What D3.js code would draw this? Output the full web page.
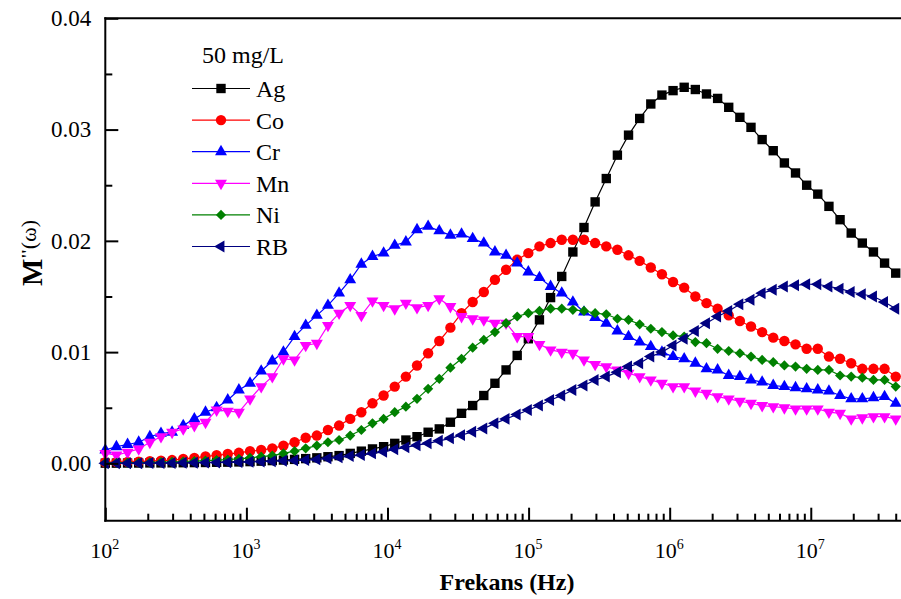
<!DOCTYPE html>
<html>
<head>
<meta charset="utf-8">
<script src="https://cdn.jsdelivr.net/npm/d3@7"></script>
<style>
  html, body { margin: 0; padding: 0; background: #fff; }
  svg { display: block; }
  text { font-family: "Liberation Serif", "Times New Roman", serif; fill: #000; }
</style>
</head>
<body>
<svg id="chart" width="901" height="599"></svg>
<script>
// ---------- DATA ----------
const frequency = [100, 119.9, 143.8, 172.5, 206.9, 248.1, 297.4, 356.7, 427.8, 513.1,
  615.2, 737.8, 884.8, 1061, 1273, 1526, 1830, 2195, 2632, 3157,
  3784, 4539, 5443, 6527, 7827, 9387, 11256, 13500, 16190, 19410,
  23280, 27920, 33480, 40150, 48150, 57740, 69240, 83040, 99590, 119400,
  143200, 171800, 206000, 247000, 296200, 355300, 426000, 510900, 612700, 734800,
  881000, 1056600, 1267000, 1520000, 1823000, 2186000, 2621000, 3144000, 3770000, 4521000,
  5420000, 6500000, 7796000, 9349000, 11210000, 13450000, 16130000, 19340000, 23190000, 27810000,
  33340000, 40000000];

const Ag = [0.00002, 0.00002, 0.00003, 0.00003, 0.00004, 0.00004, 0.00005, 0.00006, 0.00007, 0.00008,
  0.0001, 0.00011, 0.00013, 0.00016, 0.0002, 0.00025, 0.0003, 0.00036, 0.00043, 0.0005,
  0.0006, 0.0007, 0.0009, 0.0011, 0.0013, 0.0015, 0.0018, 0.0021, 0.0024, 0.0028,
  0.0031, 0.0037, 0.0045, 0.0052, 0.0061, 0.0072, 0.0084, 0.0097, 0.0112, 0.0129,
  0.0149, 0.0168, 0.0190, 0.0212, 0.0235, 0.0256, 0.0277, 0.0295, 0.0310, 0.0323,
  0.0331, 0.0335, 0.0338, 0.0336, 0.0332, 0.0328, 0.0320, 0.0311, 0.0302, 0.0291,
  0.0281, 0.0270, 0.0261, 0.0250, 0.0242, 0.0231, 0.0219, 0.0207, 0.0198, 0.0190,
  0.0180, 0.0171];

const Co = [0.0001, 0.00012, 0.00014, 0.00016, 0.0002, 0.00025, 0.0003, 0.0004, 0.0005, 0.00062,
  0.00073, 0.00084, 0.00095, 0.0011, 0.0012, 0.00135, 0.0016, 0.0019, 0.0023, 0.0025,
  0.0030, 0.0034, 0.0040, 0.0046, 0.0054, 0.0061, 0.0069, 0.0078, 0.0088, 0.0099,
  0.0110, 0.0122, 0.0135, 0.0145, 0.0154, 0.0165, 0.0174, 0.0183, 0.0189, 0.0195,
  0.0198, 0.0201, 0.0201, 0.0201, 0.0198, 0.0195, 0.0192, 0.0187, 0.0182, 0.0176,
  0.0170, 0.0163, 0.0158, 0.0150, 0.0144, 0.0139, 0.0133, 0.0128, 0.0123, 0.0118,
  0.0113, 0.0110, 0.0107, 0.0103, 0.0103, 0.0096, 0.0094, 0.0090, 0.0085, 0.0085,
  0.0085, 0.0078];

const Cr = [0.0012, 0.0015, 0.0017, 0.0019, 0.0024, 0.0027, 0.0028, 0.0034, 0.0040, 0.0046,
  0.0050, 0.0057, 0.0066, 0.0072, 0.0083, 0.0092, 0.0100, 0.0114, 0.0124, 0.0133,
  0.0142, 0.0153, 0.0165, 0.0179, 0.0186, 0.0189, 0.0196, 0.0199, 0.0210, 0.0213,
  0.0209, 0.0205, 0.0206, 0.0202, 0.0198, 0.0190, 0.0187, 0.0180, 0.0172, 0.0167,
  0.0159, 0.0153, 0.0145, 0.0136, 0.0131, 0.0126, 0.0119, 0.0114, 0.0109, 0.0105,
  0.0100, 0.0096, 0.0094, 0.0090, 0.0085, 0.0084, 0.0079, 0.0078, 0.0075, 0.0073,
  0.0070, 0.0069, 0.0068, 0.0067, 0.0066, 0.0065, 0.0061, 0.0058, 0.0058, 0.0059,
  0.0060, 0.0054];

const Mn = [0.0009, 0.00075, 0.0010, 0.0013, 0.0019, 0.0024, 0.0028, 0.0031, 0.0034, 0.0037,
  0.0048, 0.0047, 0.0046, 0.0058, 0.0069, 0.0078, 0.0094, 0.0093, 0.0106, 0.0108,
  0.0124, 0.0135, 0.0142, 0.0133, 0.0146, 0.0142, 0.0139, 0.0144, 0.0140, 0.0142,
  0.0148, 0.0141, 0.0132, 0.0130, 0.0129, 0.0126, 0.0126, 0.0114, 0.0114, 0.0107,
  0.0102, 0.0100, 0.0099, 0.0093, 0.0089, 0.0087, 0.0084, 0.0081, 0.0078, 0.0075,
  0.0072, 0.0069, 0.0069, 0.0065, 0.0063, 0.0060, 0.0058, 0.0056, 0.0054, 0.0052,
  0.0051, 0.0050, 0.0049, 0.0049, 0.0049, 0.0046, 0.0045, 0.0040, 0.0041, 0.0042,
  0.0042, 0.0040];

const Ni = [0.00005, 0.00006, 0.00007, 0.00008, 0.0001, 0.00012, 0.00014, 0.00017, 0.0002, 0.00025,
  0.0003, 0.00035, 0.0004, 0.0005, 0.0006, 0.0007, 0.0009, 0.0011, 0.00135, 0.0016,
  0.0019, 0.0021, 0.0025, 0.0030, 0.0036, 0.0040, 0.0046, 0.0051, 0.0058, 0.0067,
  0.0076, 0.0086, 0.0094, 0.0104, 0.0111, 0.0118, 0.0126, 0.0132, 0.0135, 0.0137,
  0.0139, 0.0139, 0.0138, 0.0137, 0.0135, 0.0134, 0.0130, 0.0129, 0.0125, 0.0121,
  0.0118, 0.0115, 0.0114, 0.0109, 0.0108, 0.0103, 0.0101, 0.0099, 0.0096, 0.0093,
  0.0091, 0.0088, 0.0087, 0.0085, 0.0084, 0.0084, 0.0079, 0.0078, 0.0077, 0.0075,
  0.0075, 0.0069];

const RB = [0.00001, 0.00001, 0.00002, 0.00002, 0.00003, 0.00003, 0.00004, 0.00005, 0.00006, 0.00007,
  0.00008, 0.0001, 0.00012, 0.00014, 0.00016, 0.0002, 0.00023, 0.00027, 0.0003, 0.00036,
  0.00045, 0.00054, 0.00066, 0.00075, 0.0009, 0.00104, 0.00126, 0.00144, 0.00164, 0.0018,
  0.00203, 0.00225, 0.00254, 0.00284, 0.00314, 0.0036, 0.0040, 0.0044, 0.0048, 0.0052,
  0.0057, 0.0061, 0.0066, 0.0070, 0.0075, 0.0078, 0.0082, 0.0087, 0.0090, 0.0096,
  0.0100, 0.0106, 0.0112, 0.0119, 0.0126, 0.0132, 0.0137, 0.0143, 0.0147, 0.0153,
  0.0156, 0.0159, 0.0160, 0.0161, 0.0161, 0.0159, 0.0157, 0.0154, 0.0152, 0.0150,
  0.0145, 0.0139];

const seriesNames = ["Ag", "Co", "Cr", "Mn", "Ni", "RB"];
const seriesValues = [Ag, Co, Cr, Mn, Ni, RB];
const legendTitle = "50 mg/L";
const xTickValues = [1e2, 1e3, 1e4, 1e5, 1e6, 1e7];
const xTickExponents = ["2", "3", "4", "5", "6", "7"];
const yTickValues = [0, 0.01, 0.02, 0.03, 0.04];
const yMinorTickValues = [0.005, 0.015, 0.025, 0.035];
const xTitle = "Frekans (Hz)";

(function () {
// ---------- STYLE ----------
const colors = {Ag: "#000000", Co: "#ff0000", Cr: "#0000ff", Mn: "#ff00ff", Ni: "#008000", RB: "#000080"};
const markers = {
  Ag: {type: d3.symbolSquare, size: 88, rot: 0},
  Co: {type: d3.symbolCircle, size: 85, rot: 0},
  Cr: {type: d3.symbolTriangle, size: 62, rot: 0},
  Mn: {type: d3.symbolTriangle, size: 62, rot: 180},
  Ni: {type: d3.symbolSquare, size: 52, rot: 45},
  RB: {type: d3.symbolTriangle, size: 62, rot: -90}
};

// ---------- SCALES ----------
const pL = 105.3, pR = 909.4, pT = 18.3, pB = 520.7;
const x = d3.scaleLog().domain([1e2, 5e7]).range([pL, pR]);
const y = d3.scaleLinear().domain([-0.00515, 0.04]).range([pB, pT]);

const svg = d3.select("#chart");

// ---------- SERIES ----------
const line = d3.line().x(d => x(d[0])).y(d => y(d[1]));
seriesNames.forEach((name, i) => {
  const pts = frequency.map((f, k) => [f, seriesValues[i][k]]);
  const g = svg.append("g").attr("class", "series-" + name);
  g.append("path").datum(pts)
    .attr("d", line).attr("fill", "none")
    .attr("stroke", colors[name]).attr("stroke-width", 1.2);
  const m = markers[name];
  const sym = d3.symbol().type(m.type).size(m.size);
  g.selectAll("path.pt").data(pts).join("path")
    .attr("class", "pt")
    .attr("d", sym)
    .attr("transform", d => `translate(${x(d[0])},${y(d[1])}) rotate(${m.rot})`)
    .attr("fill", colors[name]);
});

// ---------- AXES ----------
const xMinor = [];
for (let e = 2; e <= 7; e++) for (let m = 2; m <= 9; m++) {
  const v = m * Math.pow(10, e);
  if (v <= 5e7) xMinor.push(v);
}
svg.append("g").attr("transform", `translate(0,${pB})`)
  .call(d3.axisBottom(x).tickValues(xMinor).tickSizeInner(-7).tickSizeOuter(0).tickFormat(() => ""))
  .call(g => { g.select(".domain").remove(); g.selectAll("line").attr("stroke-width", 2); });
const xAx = svg.append("g").attr("transform", `translate(0,${pB})`)
  .call(d3.axisBottom(x).tickValues(xTickValues).tickSizeInner(-13).tickSizeOuter(0).tickFormat(() => ""))
  .call(g => { g.select(".domain").remove(); g.selectAll("line").attr("stroke-width", 2); });
xAx.selectAll(".tick").each(function(d, i) {
  const t = d3.select(this).select("text")
    .attr("y", 0).attr("dy", 0)
    .attr("transform", "translate(-1,37)")
    .attr("text-anchor", "middle").attr("fill", "#000")
    .style("font-family", '"Liberation Serif", serif').style("font-size", "22px");
  t.text(null);
  t.append("tspan").text("10");
  t.append("tspan").attr("dy", -9).style("font-size", "14px").text(xTickExponents[i]);
});

svg.append("g").attr("transform", `translate(${pL},0)`)
  .call(d3.axisLeft(y).tickValues(yMinorTickValues).tickSizeInner(-7).tickSizeOuter(0).tickFormat(() => ""))
  .call(g => { g.select(".domain").remove(); g.selectAll("line").attr("stroke-width", 2); });
svg.append("g").attr("transform", `translate(${pL},0)`)
  .call(d3.axisLeft(y).tickValues(yTickValues).tickSizeInner(-13).tickSizeOuter(0).tickPadding(15).tickFormat(d3.format(".2f")))
  .call(g => {
    g.select(".domain").remove();
    g.selectAll("line").attr("stroke-width", 2);
    g.selectAll("text").attr("fill", "#000").attr("x", -14)
      .style("font-family", '"Liberation Serif", serif').style("font-size", "23px");
  });

// spines
svg.append("line").attr("x1", pL).attr("x2", pL).attr("y1", pT - 1).attr("y2", pB + 1)
  .attr("stroke", "#000").attr("stroke-width", 2);
svg.append("line").attr("x1", pL - 1).attr("x2", pR).attr("y1", pB).attr("y2", pB)
  .attr("stroke", "#000").attr("stroke-width", 2);
svg.append("line").attr("x1", pL - 1).attr("x2", pR).attr("y1", pT).attr("y2", pT)
  .attr("stroke", "#000").attr("stroke-width", 2);

// titles
svg.append("text").attr("x", 507).attr("y", 590).attr("text-anchor", "middle")
  .style("font-size", "24px").style("font-weight", "bold").text(xTitle);

const yt = svg.append("text").attr("transform", "translate(42,253) rotate(-90)")
  .attr("text-anchor", "middle");
yt.append("tspan").style("font-size", "29px").style("font-weight", "bold").text("M");
yt.append("tspan").attr("dy", -9).style("font-size", "17px").style("font-weight", "bold").text("''");
yt.append("tspan").attr("dy", 3).style("font-size", "22px").text("(\u03C9)");

// ---------- LEGEND ----------
const lg = svg.append("g");
lg.append("text").attr("x", 202).attr("y", 63).style("font-size", "24px").text(legendTitle);
seriesNames.forEach((name, i) => {
  const cy = 88.5 + i * 31.6;
  lg.append("line").attr("x1", 192).attr("x2", 250).attr("y1", cy).attr("y2", cy)
    .attr("stroke", colors[name]).attr("stroke-width", 1.2);
  const m = markers[name];
  lg.append("path").attr("d", d3.symbol().type(m.type).size(m.size)())
    .attr("transform", `translate(221,${cy}) rotate(${m.rot})`)
    .attr("fill", colors[name]);
  lg.append("text").attr("x", 256).attr("y", cy).attr("dy", "0.35em")
    .style("font-size", "24px").text(name);
});
})();
</script>
</body>
</html>
